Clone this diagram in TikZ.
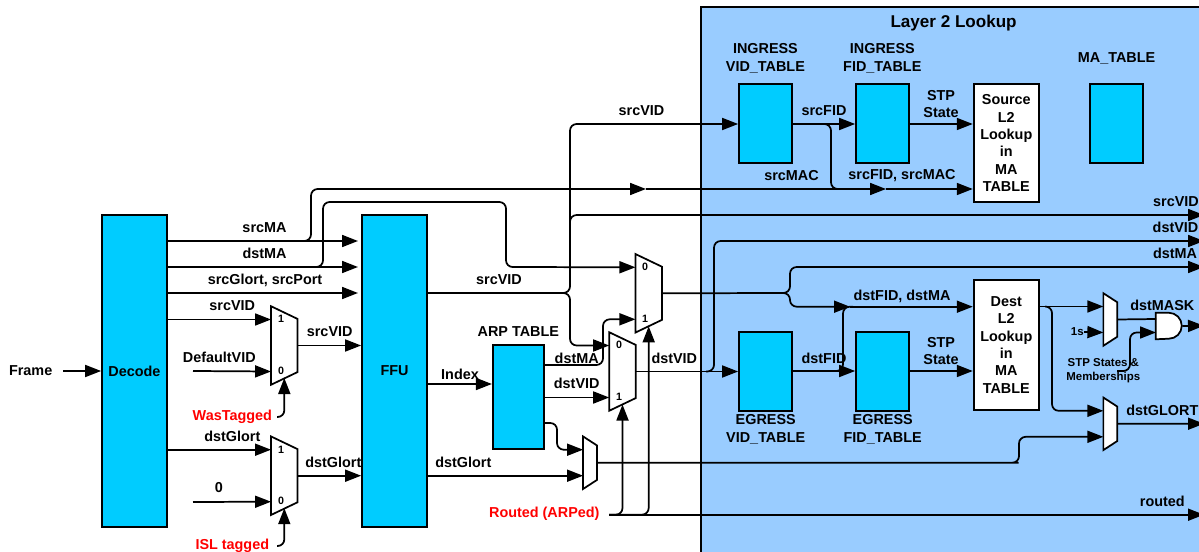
\documentclass[tikz,border=0pt]{standalone}
\usepackage{fontspec}
\setmainfont{Liberation Sans}
\usetikzlibrary{arrows.meta,calc}
\definecolor{tablecyan}{HTML}{00CCFF}
\definecolor{lookupblue}{HTML}{99CCFF}
\tikzset{
  every node/.style={font=\bfseries\fontsize{10.8}{13}\selectfont,align=center,inner sep=0pt},
  wire/.style={line width=1.3pt,rounded corners=5pt},
  sig/.style={wire,-{Triangle[length=12pt,width=9pt]}},
  block/.style={draw,line width=1.3pt,fill=tablecyan},
  bigblock/.style={block,minimum width=48.75pt,minimum height=234pt},
  tbl/.style={block,minimum width=39.75pt,minimum height=59.25pt},
  lookup/.style={draw,line width=1.3pt,fill=white,minimum width=49pt},
  mux/.style={minimum width=19.5pt,minimum height=58.5pt},
  smallmux/.style={minimum width=10pt,minimum height=39pt},
  gate/.style={minimum width=19.5pt,minimum height=19.5pt},
  muxnum/.style={font=\bfseries\fontsize{8}{9}\selectfont},
  tiny/.style={font=\bfseries\fontsize{8.6}{10.5}\selectfont},
  alert/.style={text=red},
}
% outline and ports of a mux: name, slant, half spread, select offset
\newcommand{\muxports}[4]{%
  \draw[line width=1.3pt,fill=white,line join=miter] (#1.north west) -- ($(#1.north east)+(0,#2)$)
    -- ($(#1.south east)+(0,-#2)$) -- (#1.south west) -- cycle;
  \coordinate (#1up) at ($(#1.west)+(0,-#3)$);
  \coordinate (#1dn) at ($(#1.west)+(0,#3)$);
  \coordinate (#1sel) at ($(#1.center)+(0,#4)$);
}

\begin{document}
\begin{tikzpicture}[x=0.75pt,y=-0.75pt]
\useasboundingbox (0,0) rectangle (1199,552);
\fill[white] (0,0) rectangle (1199,552);
\draw[line width=1.3pt,fill=lookupblue] (701,7) rectangle (1230,580);

% blocks
\node[bigblock] (decode) at (134.5,371) {Decode};
\node[bigblock] (ffu) at (394.5,371) {FFU};
\node[block,minimum width=38.6pt,minimum height=78pt] (arp) at (518.5,397) {};
\node[tbl] (ingvid) at (765.5,123.5) {};
\node[tbl] (ingfid) at (882.5,123.5) {};
\node[tbl] (matable) at (1116.5,123.5) {};
\node[tbl] (egrvid) at (765.5,371.5) {};
\node[tbl] (egrfid) at (882.5,371.5) {};
\node[lookup,minimum height=88.5pt] (srclookup) at (1006.3,143) {Source\\L2\\Lookup\\in\\MA\\TABLE};
\node[lookup,minimum height=97.5pt] (dstlookup) at (1006.3,345) {Dest\\L2\\Lookup\\in\\MA\\TABLE};

% muxes
\node[mux] (muxvid) at (284.3,345.5) {};
\node[mux] (muxglort) at (284.3,475.7) {};
\node[mux] (muxtop) at (648.7,293.3) {};
\node[mux] (muxlow) at (622.5,371.5) {};
\node[smallmux] (muxarp) at (590,462.7) {};
\node[smallmux] (muxmask) at (1110.3,319.5) {};
\node[smallmux] (muxdglort) at (1110.3,423.8) {};
\muxports{muxvid}{12.7}{26}{32.5}
\muxports{muxglort}{12.7}{26}{32.5}
\muxports{muxtop}{12.7}{26}{33}
\muxports{muxlow}{12.7}{26}{33}
\muxports{muxarp}{9}{13}{0}
\muxports{muxmask}{9}{13}{0}
\muxports{muxdglort}{9}{13}{0}
\node[gate] (andmask) at (1169,326) {};
\draw[line width=1.3pt,fill=white] (andmask.north west) -- ++(13,0) arc (-90:90:13) -- (andmask.south west) -- cycle;

\node[muxnum] (numa) at (281,319) {1};
\node[muxnum] (numb) at (281,371) {0};
\node[muxnum] (numc) at (281,449.7) {1};
\node[muxnum] (numd) at (281,501.3) {0};
\node[muxnum] (nume) at (645,266.7) {0};
\node[muxnum] (numf) at (645,319) {1};
\node[muxnum] (numg) at (619,345.3) {0};
\node[muxnum] (numh) at (619,397) {1};

% free ends and junctions
\coordinate (frame) at (63,371);
\coordinate (defvid) at (193,371);
\coordinate (zeroin) at (193,502);
\coordinate (tagged) at (277,417);
\coordinate (isl) at (277,546);
\coordinate (routedin) at (609,514.7);
\coordinate (ffuma) at (358,241);
\coordinate (ffuda) at (358,267);
\coordinate (ffugl) at (358,293);
\coordinate (outsrc) at (1204,215);
\coordinate (outdst) at (1204,241);
\coordinate (outma) at (1204,267);
\coordinate (outmask) at (1204,325.7);
\coordinate (outglort) at (1204,423.7);
\coordinate (outrouted) at (1204,514.7);
\coordinate (ones) at (1084,332);
\coordinate (stp) at (1117,371);
\coordinate (midma) at (646,189);
\coordinate (midsrc) at (886,189);
\coordinate (middst) at (850,306.7);
\coordinate (ffusplit) at (560,293);
\coordinate (muxsplit) at (785,293);
\coordinate (andup) at (1156,319);
\coordinate (anddn) at (1156,332.5);

% left side
\draw[sig] (frame) -- (decode.west |- frame);
\draw[sig] (decode.east |- ffuma) -- (ffuma);
\draw[sig] (decode.east |- ffuda) -- (ffuda);
\draw[sig] (decode.east |- ffugl) -- (ffugl);
\draw[sig] (decode.east |- muxvidup) -- (muxvidup);
\draw[sig] (defvid) -- (muxviddn);
\draw[sig] (decode.east |- muxglortup) -- (muxglortup);
\draw[sig] (zeroin) -- (muxglortdn);
\draw[sig] (muxvid.east) -- (ffu.west |- muxvid.east);
\draw[sig] (muxglort.east) -- (ffu.west |- muxglort.east);
\draw[sig] (tagged) -| (muxvidsel);
\draw[sig] (isl) -| (muxglortsel);

% MA lines up and over the FFU
\draw[sig] (305,241) -| (311,189) -- (midma);
\draw[sig] (midma) -- (midsrc);
\draw[sig] (midsrc) -- (srclookup.west |- midsrc);
\draw[sig] (317,267) -| (323,202) -| (506,267) -- (muxtopup);

% srcVID out of the FFU
\draw[wire] (ffu.east |- ffusplit) -- (ffusplit);
\draw[sig] (ffusplit) -| (570,124) -- (ingvid.west |- 0,124);
\draw[sig] (ffusplit) -| (570,345.5) -- (muxlowup);
\draw[sig] (570,235) |- (outsrc);

% ARP table
\draw[sig] (ffu.east |- 0,384) -- (arp.west |- 0,384);
\draw[sig] (arp.east |- 0,365) -| (603,319.3) -- (muxtopdn);
\draw[sig] (arp.east |- muxlowdn) -- (muxlowdn);
\draw[sig] (arp.east |- 0,423) -| (557,449.7) -- (muxarpup);
\draw[sig] (ffu.east |- muxarpdn) -- (muxarpdn);

% routed select
\draw[sig] (routedin) -- (outrouted);
\draw[sig] (routedin) -| (muxlowsel);
\draw[sig] (routedin) -| (muxtopsel);

% mux outputs
\draw[sig] (muxlow.east) -- (egrvid.west |- muxlow.east);
\draw[sig] (706,371.5) -| (714,241) -- (outdst);
\draw[wire] (muxtop.east) -- (muxsplit);
\draw[sig] (muxsplit) -| (790,267) -- (outma);
\draw[sig] (muxsplit) -| (790,306.7) -- (middst);
\draw[sig] (middst) -- (dstlookup.west |- middst);
\draw[sig] (muxarp.east) -- (1012,462.7) -| (1019,436.8) -- (muxdglortdn);

% layer 2 tables
\draw[sig] (ingvid.east |- 0,124) -- (ingfid.west |- 0,124);
\draw[sig] (ingfid.east |- 0,124) -- (srclookup.west |- 0,124);
\draw[wire] (826,124) -| (831,189) -- (838,189);
\draw[sig] (egrvid.east |- 0,371) -- (egrfid.west |- 0,371);
\draw[wire] (838,371) -| (843,306.7) -- (853,306.7);
\draw[sig] (egrfid.east |- 0,371) -- (dstlookup.west |- 0,371);

% masks
\draw[sig] (dstlookup.east |- muxmaskup) -- (muxmaskup);
\draw[sig] (1046,306.5) -| (1052,410.8) -- (muxdglortup);
\draw[sig] (ones) -- (muxmaskdn);
\draw[wire] (muxmask.east) -- (andup);
\draw[sig] (stp) -| (1130,332.5) -- (anddn);
\draw[sig] (andmask.east) -- (outmask);
\draw[sig] (muxdglort.east) -- (outglort);

% labels
\node (framelbl) at (30.7,371) {Frame};
\node (srcmalbl) at (264.5,227.7) {srcMA};
\node (dstmalbl) at (264.5,253.7) {dstMA};
\node (glortlbl) at (265,280) {srcGlort, srcPort};
\node (srcvidin) at (232.3,305.7) {srcVID};
\node (srcvidout) at (329.7,332) {srcVID};
\node (defvidlbl) at (219.3,357.7) {DefaultVID};
\node[alert] (taggedlbl) at (232.3,416.7) {WasTagged};
\node (dstglortin) at (232.3,436) {dstGlort};
\node (dstglortout) at (333.3,462.3) {dstGlort};
\node (zerolbl) at (219,488) {0};
\node[alert] (isllbl) at (232.3,546) {ISL tagged};
\node (ffuvid) at (499,279.7) {srcVID};
\node (arplbl) at (518.3,331.7) {ARP TABLE};
\node (indexlbl) at (460,374) {Index};
\node (arpma) at (576.7,358.3) {dstMA};
\node (arpvid) at (576.7,383.7) {dstVID};
\node (ffuglort) at (463.3,462.3) {dstGlort};
\node (muxvidlbl) at (674.3,358) {dstVID};
\node[alert] (routedlbl) at (544.3,514) {Routed (ARPed)};
\node (topvid) at (641.5,111) {srcVID};
\node[font=\bfseries\fontsize{12.8}{15}\selectfont] (titlelbl) at (953.6,22.7) {Layer 2 Lookup};
\node (ingvidlbl) at (765.4,58.3) {INGRESS\\VID\_TABLE};
\node (ingfidlbl) at (882.3,58.3) {INGRESS\\FID\_TABLE};
\node (matablelbl) at (1116.6,58.3) {MA\_TABLE};
\node (srcfidlbl) at (824,111) {srcFID};
\node (srcstp) at (941,104) {STP\\State};
\node (srcmaclbl) at (791.5,175.7) {srcMAC};
\node (fidmaclbl) at (902,175.7) {srcFID, srcMAC};
\node (outsrclbl) at (1176,201.7) {srcVID};
\node (outdstlbl) at (1175.5,227.3) {dstVID};
\node (outmalbl) at (1175,253.7) {dstMA};
\node (fidmalbl) at (902,296) {dstFID, dstMA};
\node (dstfidlbl) at (824,358) {dstFID};
\node (dststp) at (941,351.3) {STP\\State};
\node (egrvidlbl) at (765.7,429.5) {EGRESS\\VID\_TABLE};
\node (egrfidlbl) at (882.7,429.3) {EGRESS\\FID\_TABLE};
\node (masklbl) at (1162.3,305.7) {dstMASK};
\node (glortout) at (1162.3,410) {dstGLORT};
\node (routedout) at (1162.3,501) {routed};
\node[tiny] (oneslbl) at (1077.3,332) {1s};
\node[tiny] (stplbl) at (1103.3,371) {STP States \&\\Memberships};
\end{tikzpicture}
\end{document}
